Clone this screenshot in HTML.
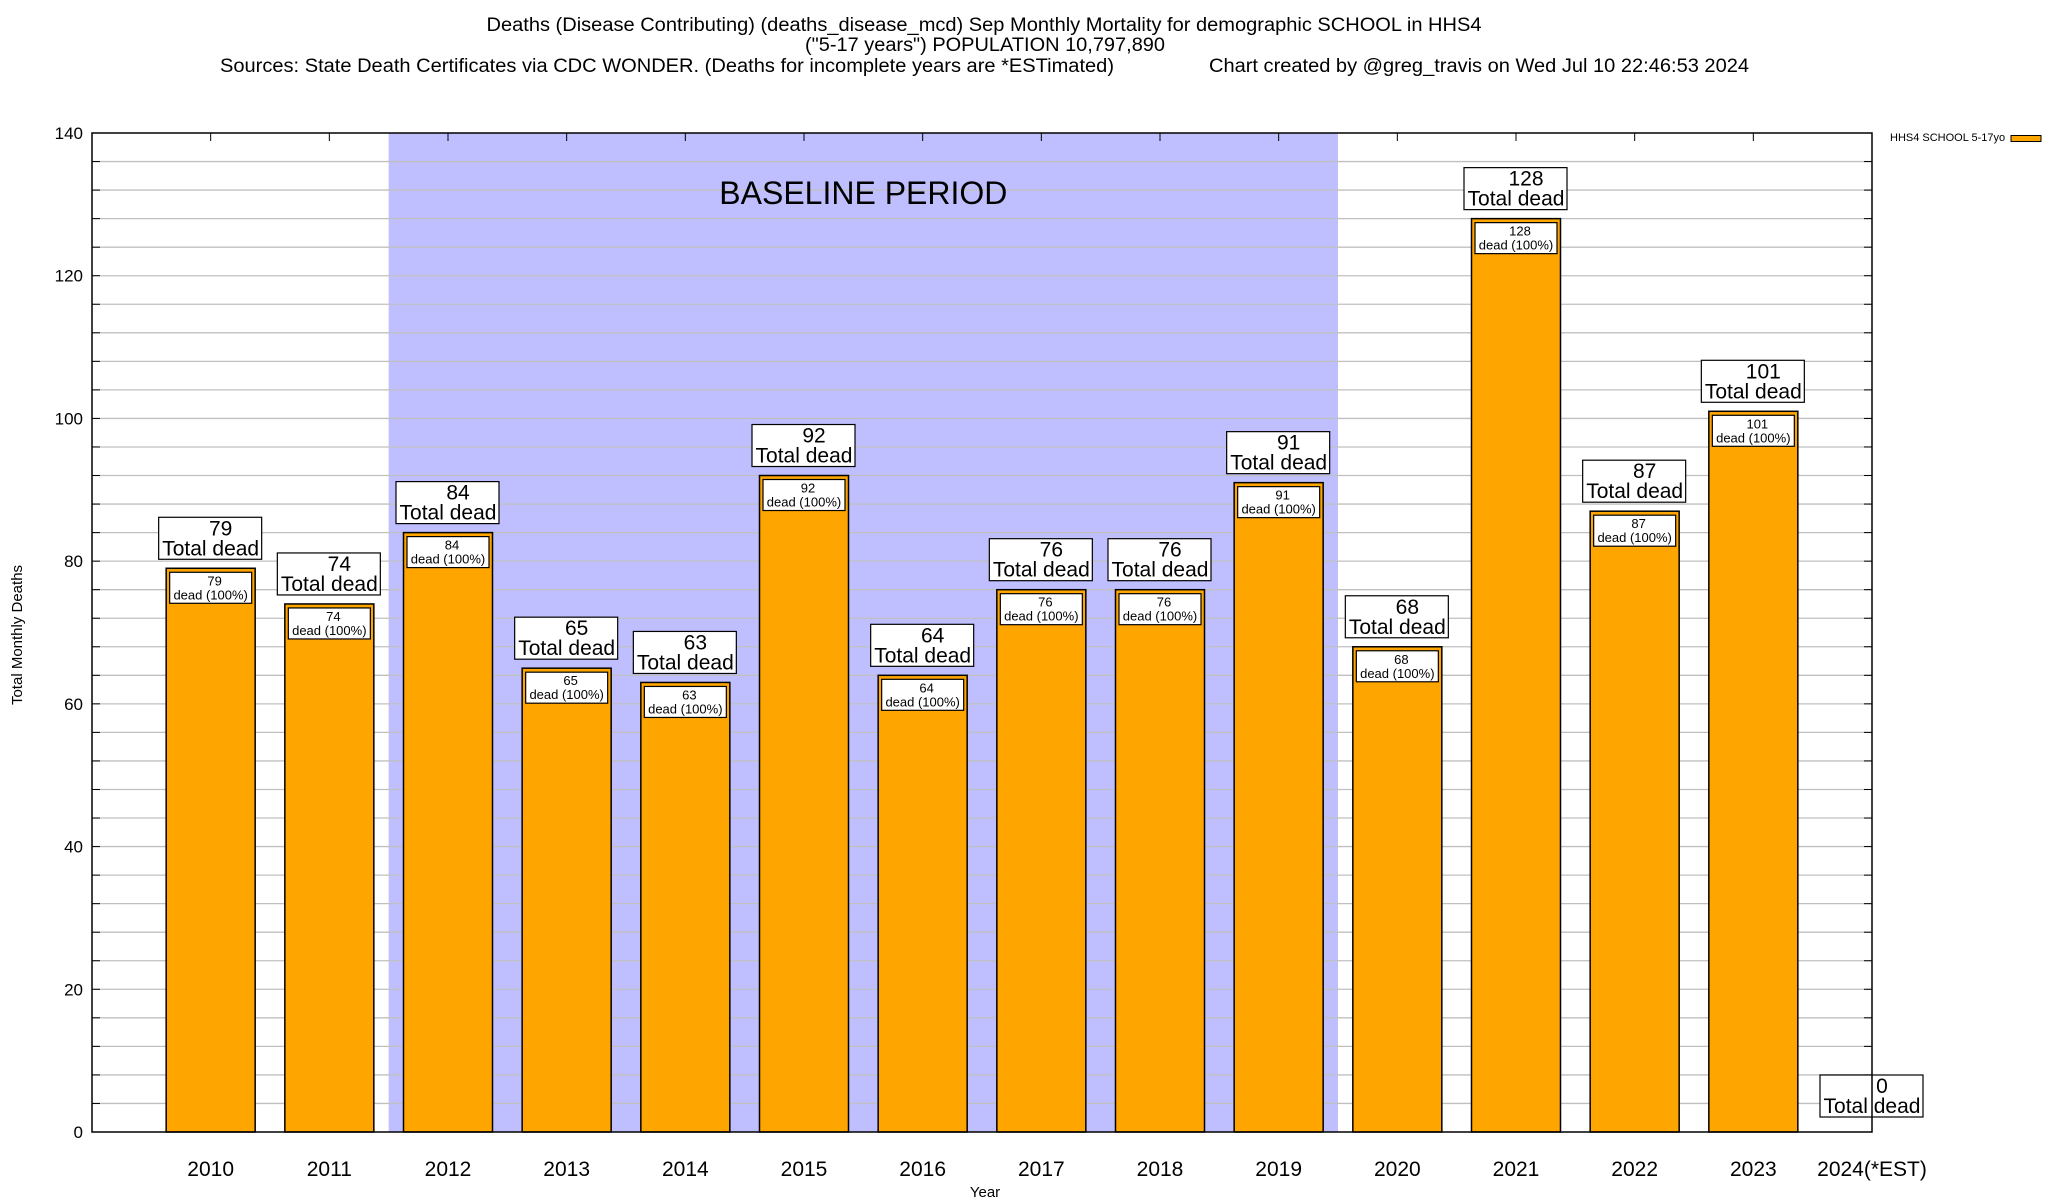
<!DOCTYPE html>
<html><head><meta charset="utf-8"><style>
html,body{margin:0;padding:0;background:#fff;}
svg{display:block;font-family:"Liberation Sans",Arial,sans-serif;}
</style></head><body>
<svg id="chart" width="2048" height="1200" viewBox="0 0 2048 1200">
<g>
<text x="984" y="31" font-size="19" text-anchor="middle" textLength="995" lengthAdjust="spacingAndGlyphs">Deaths (Disease Contributing) (deaths_disease_mcd) Sep Monthly Mortality for demographic SCHOOL in HHS4</text>
<text x="985" y="51" font-size="19" text-anchor="middle" textLength="360" lengthAdjust="spacingAndGlyphs">("5-17 years") POPULATION 10,797,890</text>
<text x="220" y="72" font-size="19" textLength="894" lengthAdjust="spacingAndGlyphs">Sources: State Death Certificates via CDC WONDER. (Deaths for incomplete years are *ESTimated)</text>
<text x="1209" y="72" font-size="19" textLength="540" lengthAdjust="spacingAndGlyphs">Chart created by @greg_travis on Wed Jul 10 22:46:53 2024</text>
</g>
<g id="plot"></g>
<text x="22" y="635" font-size="15" text-anchor="middle" transform="rotate(-90 22 635)">Total Monthly Deaths</text>
<text x="985" y="1197" font-size="15" text-anchor="middle">Year</text>
<g>
<text x="1890" y="141" font-size="11">HHS4 SCHOOL 5-17yo</text>
<rect x="2011" y="135.5" width="30" height="6" fill="#ffa500" stroke="#000" stroke-width="1"/>
</g>
</svg>
<script>
const categories = ["2010","2011","2012","2013","2014","2015","2016","2017","2018","2019","2020","2021","2022","2023","2024(*EST)"];
const values = [79,74,84,65,63,92,64,76,76,91,68,128,87,101,0];
const yTicks = [0,20,40,60,80,100,120,140];
const baselineRange = [1.5, 9.5];
const yMax = 140;

const L=92, R=1872, T=133, B=1132;
const unit=(R-L)/15;
function xs(i){return L+(i+1)*unit;}
function ys(v){return B-(v/yMax)*(B-T);}
const NS="http://www.w3.org/2000/svg";
const plot=document.getElementById('plot');
function mk(tag,attrs,parent){const e=document.createElementNS(NS,tag);for(const k in attrs)e.setAttribute(k,attrs[k]);(parent||plot).appendChild(e);return e;}

const sh=mk('rect',{x:xs(baselineRange[0]),y:T,width:xs(baselineRange[1])-xs(baselineRange[0]),height:B-T,fill:'#bfbfff'});


for(let v=4;v<yMax;v+=4){
  const g=mk('line',{x1:L,x2:R,y1:ys(v),y2:ys(v),stroke:'#c0c0c0','stroke-width':1.3});
  
  
  mk('line',{x1:L,x2:L+8,y1:ys(v),y2:ys(v),stroke:'#000','stroke-width':1});
  mk('line',{x1:R-8,x2:R,y1:ys(v),y2:ys(v),stroke:'#000','stroke-width':1});
}
const bt=mk('text',{x:(xs(baselineRange[0])+xs(baselineRange[1]))/2,y:204,'font-size':32,'text-anchor':'middle'});
bt.textContent='BASELINE PERIOD';


yTicks.forEach(v=>{
  const t=mk('text',{x:83,y:ys(v)+6,'font-size':17,'text-anchor':'end'});
  t.textContent=v;
  
  
});
const bw=unit*0.75;
values.forEach((v,i)=>{
  const cx=xs(i);
  const top=ys(v);
  if(v>0){
    const b=mk('rect',{x:cx-bw/2,y:top,width:bw,height:B-top,fill:'#ffa500',stroke:'#000','stroke-width':1.5});
    
    
    const ib=mk('rect',{x:cx-41,y:top+4,width:82,height:31,fill:'#fff',stroke:'#000','stroke-width':1.2});
    
    
    const t1=mk('text',{x:cx+4,y:top+17,'font-size':13,'text-anchor':'middle'});t1.textContent=v;
    
    
    const t2=mk('text',{x:cx,y:top+31,'font-size':13,'text-anchor':'middle'});t2.textContent='dead (100%)';
    
    
  }
  const bb=Math.min(top-9,B-15);
  const ob=mk('rect',{x:cx-52,y:bb-42,width:103,height:42,fill:'#fff',stroke:'#000','stroke-width':1.2});
  
  
  const o1=mk('text',{x:cx+10,y:bb-24,'font-size':21,'text-anchor':'middle'});o1.textContent=v;
  
  
  const o2=mk('text',{x:cx,y:bb-4,'font-size':21,'text-anchor':'middle'});o2.textContent='Total dead';
  
  
  const xl=mk('text',{x:cx,y:1176,'font-size':21,'text-anchor':'middle'});xl.textContent=categories[i];
  
  
  mk('line',{x1:cx,x2:cx,y1:T,y2:T+8,stroke:'#000','stroke-width':1});
});
const fr=mk('rect',{x:L,y:T,width:R-L,height:B-T,fill:'none',stroke:'#000','stroke-width':1.5});


</script>
</body></html>
